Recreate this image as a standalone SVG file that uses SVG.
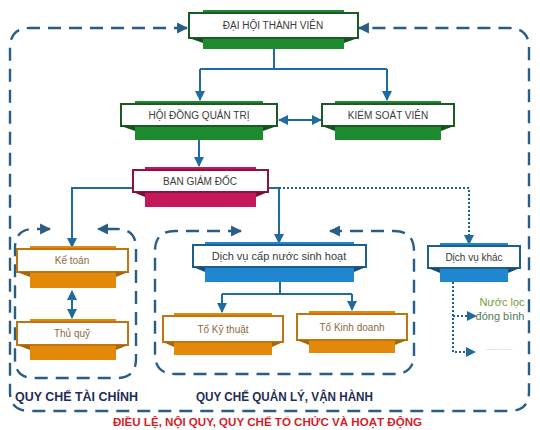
<svg xmlns="http://www.w3.org/2000/svg" width="540" height="430" viewBox="0 0 540 430">
<defs>
<marker id="ah" viewBox="0 0 10 10" refX="9" refY="5" markerWidth="5" markerHeight="5" orient="auto-start-reverse"><path d="M0,0 L10,5 L0,10 z" fill="#1f6aa0"/></marker>
<marker id="ahd" viewBox="0 0 10 10" refX="9" refY="5" markerWidth="4.6" markerHeight="4.6" orient="auto-start-reverse"><path d="M0,0 L10,5 L0,10 z" fill="#2a5d86"/></marker>
</defs>
<style>
.t{font-family:"Liberation Sans","DejaVu Sans",sans-serif;font-size:10px;fill:#3a3a3a;text-anchor:middle;dominant-baseline:central}
.wb{fill:#fff;stroke-width:2}
.g .bar{fill:#1d8a2e}.g .wb{stroke:#1a5a24}.g .f{fill:#16501f}
.r .bar{fill:#c4185a}.r .wb{stroke:#8c1242}.r .f{fill:#7a0f39}
.o .bar{fill:#e2890a}.o .wb{stroke:#c07510}.o .f{fill:#a8650a}
.b .bar{fill:#1f86cf}.b .wb{stroke:#1c5f8e}.b .f{fill:#174f78}
.o .t{fill:#8a6a40}
.c{fill:none;stroke:#1f6aa0;stroke-width:2}
.dot{fill:none;stroke:#1f5f8e;stroke-width:2;stroke-dasharray:2 2}
.dash{fill:none;stroke:#2a5d86;stroke-width:2.4;stroke-dasharray:13 8}
.lab{font-family:"Liberation Sans","DejaVu Sans",sans-serif;font-weight:bold;font-size:12px;fill:#1f2d55}
</style>
<rect width="540" height="430" fill="#fff"/>

<g id="frames">
<path class="dash" d="M187,28 H30 Q10,28 10,48 V392 Q10,411 30,411 H509 Q529,411 529,392 V48 Q529,28 509,28 H359" marker-start="url(#ahd)" marker-end="url(#ahd)"/>
<path class="dash" d="M50,229 H34 Q15,229 15,248 V359 Q15,378 34,378 H117 Q136,378 136,359 V248 Q136,229 117,229 H98" marker-start="url(#ahd)" marker-end="url(#ahd)"/>
<path class="dash" d="M241,231 H175 Q155,231 155,251 V354 Q155,374 175,374 H394 Q414,374 414,354 V251 Q414,231 394,231 H330" marker-start="url(#ahd)" marker-end="url(#ahd)"/>
</g>

<g id="connectors">
<path class="c" d="M274,49 V69 M200,69 H387"/>
<path class="c" d="M200,69 V100" marker-end="url(#ah)"/>
<path class="c" d="M387,69 V100" marker-end="url(#ah)"/>
<path class="c" d="M279,120 H321" marker-start="url(#ah)" marker-end="url(#ah)"/>
<path class="c" d="M199,140 V166" marker-end="url(#ah)"/>
<path class="c" d="M133,188 H72 V247" marker-end="url(#ah)"/>
<path class="c" d="M268,188 H279 V243" marker-end="url(#ah)"/>
<path class="dot" d="M279,188 H469 V244" marker-end="url(#ah)"/>
<path class="c" d="M72,291 V318" marker-start="url(#ah)" marker-end="url(#ah)"/>
<path class="c" d="M280,282 V294 M222,294 H352"/>
<path class="c" d="M222,294 V312" marker-end="url(#ah)"/>
<path class="c" d="M352,294 V310" marker-end="url(#ah)"/>
<path class="dot" d="M453,282 V352 H475" marker-end="url(#ah)"/>
<path class="dot" d="M453,316 H476" marker-end="url(#ah)"/>
</g>

<g id="dai-hoi" class="g">
<rect class="bar" x="203" y="10" width="141" height="39"/>
<rect class="wb" x="189" y="13" width="169" height="25"/>
<polygon class="f" points="189,38 203,38 203,43"/><polygon class="f" points="358,38 344,38 344,43"/>
<text class="t" x="273" y="25.5">ĐẠI HỘI THÀNH VIÊN</text>
</g>
<g id="hdqt" class="g">
<rect class="bar" x="135" y="101" width="128" height="39"/>
<rect class="wb" x="121" y="104" width="156" height="22"/>
<polygon class="f" points="121,126 135,126 135,131"/><polygon class="f" points="277,126 263,126 263,131"/>
<text class="t" x="199" y="115">HỘI ĐỒNG QUẢN TRỊ</text>
</g>
<g id="ksv" class="g">
<rect class="bar" x="335" y="101" width="106" height="39"/>
<rect class="wb" x="322" y="104" width="132" height="22"/>
<polygon class="f" points="322,126 335,126 335,131"/><polygon class="f" points="454,126 441,126 441,131"/>
<text class="t" x="388" y="115">KIỂM SOÁT VIÊN</text>
</g>
<g id="bgd" class="r">
<rect class="bar" x="145" y="167" width="111" height="40"/>
<rect class="wb" x="133" y="170" width="135" height="22"/>
<polygon class="f" points="133,192 145,192 145,197"/><polygon class="f" points="268,192 256,192 256,197"/>
<text class="t" x="200" y="181">BAN GIÁM ĐỐC</text>
</g>
<g id="ke-toan" class="o">
<rect class="bar" x="30" y="246" width="86" height="42"/>
<rect class="wb" x="17" y="249" width="111" height="23"/>
<polygon class="f" points="17,272 30,272 30,277"/><polygon class="f" points="128,272 116,272 116,277"/>
<text class="t" x="72" y="260.5">Kế toán</text>
</g>
<g id="thu-quy" class="o">
<rect class="bar" x="30" y="319" width="86" height="41"/>
<rect class="wb" x="17" y="322" width="111" height="23"/>
<polygon class="f" points="17,345 30,345 30,350"/><polygon class="f" points="128,345 116,345 116,350"/>
<text class="t" x="72" y="333.5">Thủ quỹ</text>
</g>
<g id="dv-cap-nuoc" class="b">
<rect class="bar" x="205" y="242" width="149" height="40"/>
<rect class="wb" x="193" y="245" width="173" height="22"/>
<polygon class="f" points="193,267 205,267 205,272"/><polygon class="f" points="366,267 354,267 354,272"/>
<text class="t" x="279" y="256" style="font-size:11px">Dịch vụ cấp nước sinh hoạt</text>
</g>
<g id="dv-khac" class="b">
<rect class="bar" x="440" y="243" width="68" height="39"/>
<rect class="wb" x="428" y="246" width="92" height="22"/>
<polygon class="f" points="428,268 440,268 440,273"/><polygon class="f" points="520,268 508,268 508,273"/>
<text class="t" x="474" y="257">Dịch vụ khác</text>
</g>
<g id="to-ky-thuat" class="o">
<rect class="bar" x="174" y="313" width="98" height="42"/>
<rect class="wb" x="163" y="316" width="120" height="26"/>
<polygon class="f" points="163,342 174,342 174,347"/><polygon class="f" points="283,342 272,342 272,347"/>
<text class="t" x="223" y="329">Tổ Kỹ thuật</text>
</g>
<g id="to-kinh-doanh" class="o">
<rect class="bar" x="309" y="311" width="86" height="42"/>
<rect class="wb" x="297" y="314" width="110" height="26"/>
<polygon class="f" points="297,340 309,340 309,345"/><polygon class="f" points="407,340 395,340 395,345"/>
<text class="t" x="352" y="327">Tổ Kinh doanh</text>
</g>
<g id="nuoc-loc">
<text class="t" x="502" y="302" style="fill:#7a9a3a;font-size:11px">Nước lọc</text>
<text class="t" x="500" y="316" style="fill:#4f7a5e;font-size:11px">đóng bình</text>
<text class="t" x="499" y="347" style="fill:#9a9a9a;font-size:7px">…………</text>
</g>

<g id="labels">
<text class="lab" x="15" y="401" textLength="123" lengthAdjust="spacingAndGlyphs">QUY CHẾ TÀI CHÍNH</text>
<text class="lab" x="196" y="401" textLength="177" lengthAdjust="spacingAndGlyphs">QUY CHẾ QUẢN LÝ, VẬN HÀNH</text>
<text class="lab" x="113" y="426" textLength="309" lengthAdjust="spacingAndGlyphs" style="fill:#d21f2b;font-size:11px">ĐIỀU LỆ, NỘI QUY, QUY CHẾ TỔ CHỨC VÀ HOẠT ĐỘNG</text>
</g>
</svg>
